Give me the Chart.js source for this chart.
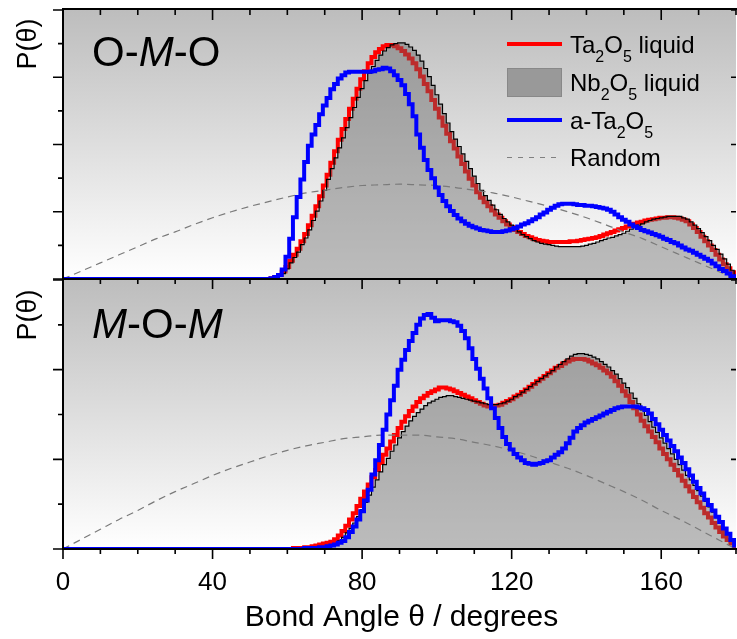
<!DOCTYPE html>
<html>
<head>
<meta charset="utf-8">
<title>Bond angle distributions</title>
<script src="https://cdn.jsdelivr.net/npm/chart.js@4.4.1/dist/chart.umd.min.js"></script>
<style>
  html, body { margin: 0; padding: 0; background: #fff; }
  #wrap { position: relative; width: 737px; height: 639px; }
  #wrap canvas { position: absolute; left: 0; top: 0; }
</style>
</head>
<body>
<div id="wrap">
  <canvas id="momChart" width="737" height="639"></canvas>
  <canvas id="omoChart" width="737" height="639"></canvas>
</div>
<script>
// histogram bins are 1 degree wide; each array starts at its *Start angle
const omoStart = 50;
const taOMO = [
  0, 0, 0, 0, 0, 0, 0.01, 0.03, 0.06, 0.11,
  0.18, 0.27, 0.36, 0.45, 0.56, 0.67, 0.80, 0.94, 1.08, 1.23,
  1.39, 1.55, 1.73, 1.90, 2.07, 2.23, 2.38, 2.53, 2.68, 2.83,
  2.97, 3.09, 3.21, 3.30, 3.37, 3.42, 3.46, 3.48, 3.48, 3.46,
  3.43, 3.39, 3.34, 3.28, 3.21, 3.12, 3.01, 2.90, 2.79, 2.66,
  2.53, 2.40, 2.28, 2.16, 2.05, 1.94, 1.82, 1.71, 1.60, 1.49,
  1.39, 1.29, 1.21, 1.14, 1.08, 1.02, 0.96, 0.91, 0.86, 0.81,
  0.77, 0.73, 0.70, 0.67, 0.64, 0.62, 0.60, 0.58, 0.57, 0.56,
  0.55, 0.55, 0.55, 0.55, 0.55, 0.55, 0.56, 0.56, 0.57, 0.58,
  0.59, 0.60, 0.61, 0.62, 0.64, 0.66, 0.68, 0.70, 0.72, 0.74,
  0.76, 0.78, 0.80, 0.82, 0.84, 0.85, 0.87, 0.88, 0.89, 0.90,
  0.91, 0.91, 0.92, 0.92, 0.91, 0.90, 0.88, 0.86, 0.81, 0.76,
  0.70, 0.63, 0.56, 0.50, 0.43, 0.36, 0.29, 0.22, 0.16, 0.10,
  0.04
];
const nbOMO = [
  0, 0, 0, 0, 0, 0, 0.01, 0.02, 0.04, 0.08,
  0.15, 0.24, 0.32, 0.40, 0.51, 0.61, 0.73, 0.87, 1.01, 1.16,
  1.32, 1.48, 1.64, 1.80, 1.95, 2.10, 2.25, 2.40, 2.55, 2.70,
  2.83, 2.95, 3.06, 3.16, 3.25, 3.33, 3.39, 3.44, 3.48, 3.50,
  3.51, 3.51, 3.49, 3.45, 3.40, 3.33, 3.24, 3.13, 3.01, 2.88,
  2.74, 2.60, 2.46, 2.32, 2.19, 2.08, 1.97, 1.86, 1.75, 1.64,
  1.53, 1.42, 1.32, 1.24, 1.17, 1.10, 1.03, 0.96, 0.90, 0.85,
  0.80, 0.75, 0.70, 0.66, 0.63, 0.60, 0.57, 0.55, 0.53, 0.52,
  0.51, 0.50, 0.49, 0.48, 0.48, 0.48, 0.48, 0.48, 0.48, 0.49,
  0.50, 0.52, 0.53, 0.55, 0.57, 0.59, 0.61, 0.62, 0.64, 0.66,
  0.68, 0.71, 0.74, 0.77, 0.80, 0.82, 0.85, 0.87, 0.89, 0.90,
  0.91, 0.92, 0.93, 0.93, 0.93, 0.93, 0.91, 0.89, 0.85, 0.80,
  0.75, 0.69, 0.63, 0.57, 0.50, 0.44, 0.37, 0.30, 0.22, 0.13,
  0.05
];
const aTaOMO = [
  0, 0, 0, 0, 0, 0, 0.01, 0.03, 0.06, 0.14,
  0.33, 0.60, 0.92, 1.22, 1.48, 1.74, 1.98, 2.15, 2.29, 2.45,
  2.58, 2.69, 2.82, 2.90, 2.98, 3.03, 3.07, 3.08, 3.08, 3.08,
  3.08, 3.08, 3.08, 3.09, 3.11, 3.12, 3.14, 3.13, 3.09, 3.03,
  2.96, 2.88, 2.75, 2.60, 2.42, 2.15, 1.95, 1.77, 1.62, 1.50,
  1.36, 1.25, 1.16, 1.08, 1.01, 0.95, 0.90, 0.86, 0.82, 0.79,
  0.77, 0.75, 0.73, 0.72, 0.71, 0.70, 0.70, 0.70, 0.71, 0.72,
  0.74, 0.76, 0.78, 0.81, 0.83, 0.86, 0.89, 0.92, 0.96, 0.99,
  1.03, 1.06, 1.09, 1.11, 1.12, 1.12, 1.12, 1.11, 1.10, 1.10,
  1.09, 1.09, 1.08, 1.07, 1.06, 1.05, 1.03, 1.00, 0.96, 0.92,
  0.88, 0.85, 0.81, 0.78, 0.76, 0.73, 0.71, 0.69, 0.67, 0.65,
  0.63, 0.60, 0.58, 0.55, 0.53, 0.50, 0.47, 0.44, 0.42, 0.39,
  0.36, 0.33, 0.30, 0.27, 0.23, 0.19, 0.15, 0.12, 0.08, 0.04,
  0.01
];

const momStart = 60;
const taMOM = [
  0, 0, 0.01, 0.01, 0.01, 0.02, 0.02, 0.03, 0.04, 0.05,
  0.06, 0.07, 0.08, 0.11, 0.15, 0.20, 0.26, 0.33, 0.40, 0.48,
  0.56, 0.64, 0.72, 0.80, 0.88, 0.96, 1.05, 1.12, 1.20, 1.27,
  1.35, 1.42, 1.48, 1.54, 1.59, 1.64, 1.68, 1.71, 1.74, 1.76,
  1.78, 1.80, 1.80, 1.79, 1.78, 1.76, 1.74, 1.72, 1.70, 1.68,
  1.66, 1.64, 1.62, 1.60, 1.59, 1.59, 1.60, 1.61, 1.63, 1.65,
  1.67, 1.70, 1.72, 1.75, 1.78, 1.81, 1.84, 1.87, 1.90, 1.93,
  1.96, 1.99, 2.02, 2.04, 2.07, 2.09, 2.11, 2.12, 2.12, 2.12,
  2.11, 2.09, 2.07, 2.05, 2.02, 1.99, 1.96, 1.92, 1.87, 1.82,
  1.76, 1.71, 1.64, 1.57, 1.50, 1.43, 1.37, 1.31, 1.25, 1.19,
  1.12, 1.06, 1.00, 0.94, 0.88, 0.82, 0.76, 0.70, 0.64, 0.58,
  0.52, 0.46, 0.40, 0.35, 0.29, 0.24, 0.19, 0.14, 0.10, 0.06,
  0.02
];
const nbMOM = [
  0, 0, 0, 0, 0, 0, 0, 0.01, 0.01, 0.02,
  0.02, 0.03, 0.04, 0.05, 0.09, 0.13, 0.18, 0.23, 0.29, 0.36,
  0.44, 0.52, 0.60, 0.69, 0.77, 0.86, 0.94, 1.01, 1.09, 1.16,
  1.24, 1.31, 1.37, 1.43, 1.48, 1.52, 1.56, 1.60, 1.63, 1.65,
  1.67, 1.69, 1.70, 1.71, 1.71, 1.70, 1.69, 1.68, 1.67, 1.66,
  1.65, 1.64, 1.63, 1.62, 1.61, 1.61, 1.61, 1.62, 1.63, 1.65,
  1.67, 1.70, 1.72, 1.75, 1.78, 1.81, 1.84, 1.87, 1.90, 1.93,
  1.96, 1.99, 2.03, 2.06, 2.09, 2.12, 2.15, 2.17, 2.18, 2.18,
  2.17, 2.16, 2.14, 2.12, 2.09, 2.06, 2.03, 1.99, 1.95, 1.90,
  1.85, 1.80, 1.74, 1.68, 1.62, 1.55, 1.49, 1.42, 1.36, 1.30,
  1.24, 1.18, 1.12, 1.06, 1.00, 0.94, 0.88, 0.82, 0.77, 0.71,
  0.65, 0.59, 0.53, 0.47, 0.41, 0.35, 0.29, 0.23, 0.17, 0.11,
  0.05
];
const aTaMOM = [
  0, 0, 0, 0, 0, 0.01, 0.01, 0.01, 0.01, 0.02,
  0.02, 0.03, 0.04, 0.05, 0.07, 0.09, 0.13, 0.19, 0.25, 0.33,
  0.42, 0.54, 0.66, 0.83, 0.99, 1.16, 1.33, 1.50, 1.66, 1.82,
  2.00, 2.11, 2.22, 2.32, 2.41, 2.50, 2.57, 2.61, 2.62, 2.58,
  2.54, 2.55, 2.55, 2.55, 2.54, 2.53, 2.49, 2.43, 2.35, 2.24,
  2.12, 2.01, 1.90, 1.79, 1.68, 1.57, 1.46, 1.35, 1.25, 1.17,
  1.11, 1.06, 1.02, 0.99, 0.96, 0.95, 0.94, 0.95, 0.96, 0.98,
  0.99, 1.02, 1.05, 1.08, 1.12, 1.18, 1.24, 1.31, 1.35, 1.38,
  1.41, 1.43, 1.45, 1.47, 1.49, 1.51, 1.53, 1.55, 1.57, 1.58,
  1.59, 1.59, 1.59, 1.59, 1.58, 1.57, 1.55, 1.51, 1.45, 1.39,
  1.33, 1.27, 1.21, 1.15, 1.09, 1.02, 0.96, 0.89, 0.82, 0.75,
  0.68, 0.62, 0.55, 0.49, 0.43, 0.36, 0.30, 0.23, 0.17, 0.10,
  0.04
];

const randomAngles = [0, 5, 10, 15, 20, 25, 30, 35, 40, 45, 50, 55, 60, 65, 70, 75, 80, 85, 90,
  95, 100, 105, 110, 115, 120, 125, 130, 135, 140, 145, 150, 155, 160, 165, 170, 175, 180];
const randomOMO = [0, 0.12, 0.24, 0.36, 0.48, 0.60, 0.70, 0.81, 0.91, 1.00, 1.08, 1.15, 1.22, 1.28, 1.32, 1.36, 1.39, 1.40, 1.41,
  1.40, 1.39, 1.36, 1.32, 1.28, 1.22, 1.15, 1.08, 1.00, 0.91, 0.81, 0.70, 0.60, 0.48, 0.36, 0.24, 0.12, 0];
const randomMOM = [0, 0.11, 0.22, 0.33, 0.43, 0.54, 0.64, 0.73, 0.82, 0.90, 0.97, 1.04, 1.10, 1.15, 1.19, 1.23, 1.25, 1.27, 1.27,
  1.27, 1.25, 1.23, 1.19, 1.15, 1.10, 1.04, 0.97, 0.90, 0.82, 0.73, 0.64, 0.54, 0.43, 0.33, 0.22, 0.11, 0];

const xTickLabels = [0, 40, 80, 120, 160];
const xMinorStep = 10;
const omoYMax = 4;
const momYMax = 3;

const FONT = '"Liberation Sans", Arial, Helvetica, sans-serif';
const RED = '#ff0000';
const BLUE = '#0000ff';
const NB_FILL = 'rgba(100, 100, 100, 0.43)';

function binPoints(start, values) {
  const pts = [{ x: 0, y: 0 }];
  values.forEach((v, i) => pts.push({ x: start + i, y: v }));
  return pts;
}

function randomPoints(values) {
  return randomAngles.map((a, i) => ({ x: a, y: values[i] }));
}

function line(ctx, x1, y1, x2, y2) {
  ctx.moveTo(x1, y1);
  ctx.lineTo(x2, y2);
}

// draws runs like [['Ta', 'n'], ['2', 's'], ...]; n = normal, s = subscript, i = italic
function drawRich(ctx, parts, x, y, size) {
  let cx = x;
  parts.forEach(([text, kind]) => {
    if (kind === 's') {
      ctx.font = `${Math.round(size * 0.67)}px ${FONT}`;
      ctx.fillText(text, cx, y + size * 0.37);
    } else {
      ctx.font = `${kind === 'i' ? 'italic ' : ''}${size}px ${FONT}`;
      ctx.fillText(text, cx, y);
    }
    cx += ctx.measureText(text).width;
  });
}

const legendRows = [
  { kind: 'line', color: RED, parts: [['Ta', 'n'], ['2', 's'], ['O', 'n'], ['5', 's'], [' liquid', 'n']] },
  { kind: 'box', parts: [['Nb', 'n'], ['2', 's'], ['O', 'n'], ['5', 's'], [' liquid', 'n']] },
  { kind: 'line', color: BLUE, parts: [['a-Ta', 'n'], ['2', 's'], ['O', 'n'], ['5', 's']] },
  { kind: 'dash', parts: [['Random', 'n']] },
];

const panelDecor = {
  id: 'panelDecor',
  beforeDraw(chart) {
    const { ctx, chartArea: a } = chart;
    const g = ctx.createLinearGradient(0, a.top, 0, a.bottom);
    g.addColorStop(0, '#bdbdbd');
    g.addColorStop(1, '#ffffff');
    ctx.save();
    ctx.fillStyle = g;
    ctx.fillRect(a.left, a.top, a.right - a.left, a.bottom - a.top);
    ctx.restore();
  },
  afterDraw(chart, args, opts) {
    const { ctx, chartArea: a } = chart;
    const x = chart.scales.x;
    const y = chart.scales.y;
    ctx.save();

    // frame
    ctx.strokeStyle = '#000';
    ctx.lineWidth = 2;
    ctx.beginPath();
    line(ctx, a.left, a.top - 2, a.left, a.bottom + 1);
    if (opts.topFrame) line(ctx, a.left, a.top - 1, a.right + 1, a.top - 1);
    line(ctx, a.left, a.bottom, a.right + 1, a.bottom);
    ctx.stroke();

    // ticks
    ctx.lineWidth = 1.6;
    ctx.beginPath();
    for (let t = 0; t <= 180; t += xMinorStep) {
      const px = x.getPixelForValue(t);
      const len = t % 40 === 0 ? 10 : 5;
      if (opts.topFrame) line(ctx, px, a.top, px, a.top + len);
      line(ctx, px, a.bottom, px, a.bottom + len);
    }
    for (let v = 0; v <= y.max + 1e-9; v += 0.5) {
      const py = y.getPixelForValue(v);
      const major = Number.isInteger(v);
      line(ctx, a.left - (major ? 10 : 5), py, a.left, py);
      if (major) line(ctx, a.right - 5, py, a.right, py);
    }
    ctx.stroke();

    ctx.fillStyle = '#000';

    // y title, rotated, near the top of the panel
    ctx.save();
    ctx.translate(36, a.top + opts.yTitleOffset);
    ctx.rotate(-Math.PI / 2);
    ctx.font = `27px ${FONT}`;
    ctx.textAlign = 'center';
    ctx.textBaseline = 'alphabetic';
    ctx.fillText('P(\u03B8)', 0, 0);
    ctx.restore();

    // panel label
    ctx.textAlign = 'left';
    ctx.textBaseline = 'alphabetic';
    drawRich(ctx, opts.panelLabel, 92, a.top + opts.panelLabelBaseline, 42);

    if (opts.xLabels) {
      ctx.font = `26px ${FONT}`;
      ctx.textAlign = 'center';
      xTickLabels.forEach((t) => ctx.fillText(String(t), x.getPixelForValue(t), 590));
      ctx.font = `30px ${FONT}`;
      ctx.fillText('Bond Angle \u03B8 / degrees', (a.left + a.right) / 2 + 2, 626);
    }

    if (opts.legend) {
      ctx.textAlign = 'left';
      const rowY = [44, 82, 120, 157];
      legendRows.forEach((row, i) => {
        const cy = rowY[i];
        if (row.kind === 'line') {
          ctx.strokeStyle = row.color;
          ctx.lineWidth = 4;
          ctx.setLineDash([]);
          ctx.beginPath();
          line(ctx, 507, cy, 562, cy);
          ctx.stroke();
        } else if (row.kind === 'box') {
          ctx.fillStyle = '#999999';
          ctx.fillRect(507, cy - 14, 55, 29);
          ctx.strokeStyle = '#888888';
          ctx.lineWidth = 1;
          ctx.strokeRect(507.5, cy - 13.5, 54, 28);
        } else {
          ctx.strokeStyle = '#808080';
          ctx.lineWidth = 1;
          ctx.setLineDash([5, 6]);
          ctx.beginPath();
          line(ctx, 507, cy + 0.5, 562, cy + 0.5);
          ctx.stroke();
          ctx.setLineDash([]);
        }
        ctx.fillStyle = '#000';
        drawRich(ctx, row.parts, 570, cy + 9, 24);
      });
    }
    ctx.restore();
  },
};

function makePanel(canvasId, cfg) {
  return new Chart(document.getElementById(canvasId), {
    type: 'line',
    data: {
      datasets: [
        {
          label: 'a-Ta2O5',
          data: binPoints(cfg.start, cfg.aTa),
          borderColor: BLUE,
          borderWidth: 4,
          stepped: 'middle',
          pointRadius: 0,
          fill: false,
          order: 0,
        },
        {
          label: 'Random',
          data: randomPoints(cfg.random),
          borderColor: '#7a7a7a',
          borderWidth: 1.2,
          borderDash: [7, 5],
          cubicInterpolationMode: 'monotone',
          pointRadius: 0,
          fill: false,
          order: 1,
        },
        {
          label: 'Nb2O5 liquid',
          data: binPoints(cfg.start, cfg.nb),
          borderColor: '#000000',
          borderWidth: 1.2,
          backgroundColor: NB_FILL,
          stepped: 'middle',
          pointRadius: 0,
          fill: 'origin',
          order: 2,
        },
        {
          label: 'Ta2O5 liquid',
          data: binPoints(cfg.start, cfg.ta),
          borderColor: RED,
          borderWidth: 4,
          stepped: 'middle',
          pointRadius: 0,
          fill: false,
          order: 3,
        },
      ],
    },
    options: {
      responsive: false,
      animation: false,
      events: [],
      layout: { padding: cfg.padding },
      scales: {
        x: { type: 'linear', min: 0, max: 180, display: false },
        y: { min: 0, max: cfg.yMax, display: false },
      },
      plugins: {
        legend: { display: false },
        tooltip: { enabled: false },
        panelDecor: cfg.decor,
      },
    },
    plugins: [panelDecor],
  });
}

makePanel('momChart', {
  start: momStart,
  ta: taMOM,
  nb: nbMOM,
  aTa: aTaMOM,
  random: randomMOM,
  yMax: momYMax,
  padding: { top: 280, bottom: 90, left: 63, right: 1 },
  decor: {
    topFrame: false,
    yTitleOffset: 35,
    panelLabel: [['M', 'i'], ['-O-', 'n'], ['M', 'i']],
    panelLabelBaseline: 58,
    xLabels: true,
    legend: false,
  },
});

makePanel('omoChart', {
  start: omoStart,
  ta: taOMO,
  nb: nbOMO,
  aTa: aTaOMO,
  random: randomOMO,
  yMax: omoYMax,
  padding: { top: 10, bottom: 360, left: 63, right: 1 },
  decor: {
    topFrame: true,
    yTitleOffset: 34,
    panelLabel: [['O-', 'n'], ['M', 'i'], ['-O', 'n']],
    panelLabelBaseline: 56,
    xLabels: false,
    legend: true,
  },
});
</script>
</body>
</html>
